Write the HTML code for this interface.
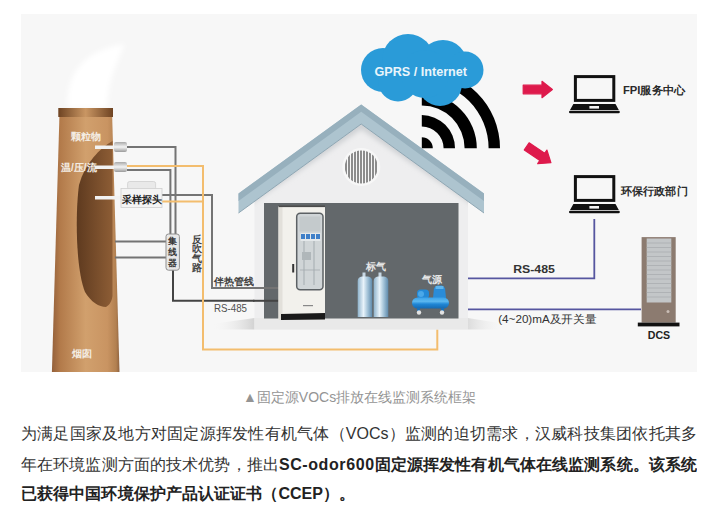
<!DOCTYPE html>
<html><head><meta charset="utf-8">
<style>
html,body{margin:0;padding:0;background:#fff;width:718px;height:515px;overflow:hidden;position:relative}
body{font-family:"Liberation Sans",sans-serif}
#dia{position:absolute;left:0;top:0}
.cap{position:absolute;left:243px;top:387px;width:233px;height:20px;font-size:14px;line-height:20px;color:#949494;white-space:nowrap;text-align:justify;text-align-last:justify}
.ln{position:absolute;left:21px;width:676px;height:30px;font-size:16px;line-height:30px;color:#333;white-space:nowrap;overflow:hidden;text-align:justify;text-align-last:justify}
.ln b{font-weight:bold;color:#222}
.tofu .ln,.tofu .cap{-webkit-text-stroke:0.9px currentColor}
.tofu .ln b{-webkit-text-stroke:1.7px currentColor}
.tofu .lat{-webkit-text-stroke:0}
.l1{top:419px}.l2{top:450px}.l3{top:479px;width:334px}
</style></head>
<body>
<svg id="dia" width="718" height="372" viewBox="0 0 718 372">
<defs>
<linearGradient id="chim" x1="0" x2="1" y1="0" y2="0">
<stop offset="0" stop-color="#94603a"/><stop offset="0.12" stop-color="#b27a4a"/><stop offset="0.5" stop-color="#d1a06d"/><stop offset="0.82" stop-color="#c99462"/><stop offset="0.95" stop-color="#b28050"/><stop offset="1" stop-color="#8e6240"/>
</linearGradient>
<linearGradient id="cap" x1="0" x2="1" y1="0" y2="0">
<stop offset="0" stop-color="#6e4322"/><stop offset="0.5" stop-color="#c99663"/><stop offset="1" stop-color="#6e4322"/>
</linearGradient>
<linearGradient id="inner" x1="0" x2="1" y1="0" y2="0">
<stop offset="0" stop-color="#5e3a1f"/><stop offset="1" stop-color="#8d5d35"/>
</linearGradient>
<linearGradient id="conn" x1="0" x2="0" y1="0" y2="1">
<stop offset="0" stop-color="#a9a9a9"/><stop offset="0.5" stop-color="#f4f4f4"/><stop offset="1" stop-color="#9a9a9a"/>
</linearGradient>
<linearGradient id="cyl" x1="0" x2="1" y1="0" y2="0">
<stop offset="0" stop-color="#8fb3cc"/><stop offset="0.4" stop-color="#e8f3fa"/><stop offset="0.7" stop-color="#9fc0d6"/><stop offset="1" stop-color="#5f8aab"/>
</linearGradient>
<radialGradient id="smoke" cx="0.5" cy="0.5" r="0.5">
<stop offset="0" stop-color="#fff" stop-opacity="1"/><stop offset="1" stop-color="#fff" stop-opacity="0"/>
</radialGradient>
<clipPath id="ventc"><circle cx="361.3" cy="167" r="16.5"/></clipPath>
</defs>
<!-- image background -->
<rect x="21" y="14" width="676" height="358" fill="#f7f7f7"/>
<!-- smoke -->
<filter id="blur6" x="-50%" y="-50%" width="200%" height="200%"><feGaussianBlur stdDeviation="2.5"/></filter>
<path d="M68 108 C66 86 74 64 96 53 C106 48 116 45 124 44 C121 55 113 70 110 84 C108 94 107 100 107 108 Z" fill="#ffffff" filter="url(#blur6)"/>
<!-- chimney -->
<polygon points="59.4,117 112.2,117 119.5,372 51.9,372" fill="url(#chim)"/>
<rect x="58.3" y="108" width="54.7" height="9" fill="url(#cap)"/>
<path d="M112.5 141 C100 148 85 163 79 185 C75 215 76 270 85 292 C91 302 99 307 106 307 C110 305 112 300 112.5 296 Z" fill="url(#inner)"/>
<!-- chimney labels -->
<text x="71" y="140" font-size="10" font-weight="bold" fill="#f4ede4">颗粒物</text>
<text x="61" y="171" font-size="10" font-weight="bold" fill="#f4ede4">温/压/流</text>
<text x="72" y="357" font-size="10" font-weight="bold" fill="#f4ede4">烟囱</text>
<!-- probes -->
<rect x="95" y="145.5" width="20" height="3.5" fill="#f2f2f2"/>
<rect x="95" y="165.5" width="20" height="3.5" fill="#f2f2f2"/>
<rect x="95" y="196" width="27" height="3.5" fill="#f2f2f2"/>
<rect x="114" y="142" width="13" height="10" rx="2" fill="url(#conn)"/>
<rect x="114" y="162" width="13" height="10" rx="2" fill="url(#conn)"/>
<!-- lines gray -->
<g fill="none" stroke="#747474" stroke-width="2">
<polyline points="127,147 175.5,147 175.5,234"/>
<polyline points="127,170 170.4,170 170.4,234"/>
<polyline points="162,195 212,195 212,288 280,288"/>
<line x1="115" y1="241.5" x2="166" y2="241.5"/>
<line x1="115" y1="257.5" x2="166" y2="257.5"/>
</g>
<polyline points="173,270 173,300.8 280,300.8" fill="none" stroke="#444" stroke-width="2"/>
<!-- orange lines -->
<g fill="none" stroke="#f3bd6e" stroke-width="2">
<polyline points="127,166 203,166 203,349.5 437.3,349.5 437.3,312"/>
<line x1="162" y1="201.6" x2="203" y2="201.6"/>
</g>
<!-- sampler -->
<rect x="127.6" y="181.5" width="28" height="8" rx="2" fill="#e9e9e9" stroke="#cfcfcf" stroke-width="0.8"/>
<rect x="121" y="188.5" width="41" height="19" fill="#f4f4f4" stroke="#d0d0d0" stroke-width="0.8"/>
<text x="122" y="203" font-size="10" font-weight="bold" fill="#222">采样探头</text>
<!-- hub -->
<rect x="166" y="234" width="13.4" height="36.2" rx="2.5" fill="#e8e8e8" stroke="#8f8f8f" stroke-width="1"/>
<g font-size="9" font-weight="bold" fill="#3a3a3a" text-anchor="middle">
<text x="172.7" y="244">集</text><text x="172.7" y="255">线</text><text x="172.7" y="266">器</text>
</g>
<g font-size="10" font-weight="bold" fill="#444" text-anchor="middle">
<text x="196.5" y="242.5">反</text><text x="196.5" y="252">吹</text><text x="196.5" y="261.5">气</text><text x="196.5" y="271">路</text>
</g>
<text x="214" y="285" font-size="10" font-weight="bold" fill="#444">伴热管线</text>
<text x="214" y="312" font-size="10.5" fill="#505050" textLength="33" lengthAdjust="spacingAndGlyphs">RS-485</text>
<!-- house -->
<linearGradient id="gable" x1="0" x2="0" y1="124" y2="205" gradientUnits="userSpaceOnUse">
<stop offset="0" stop-color="#d6d8da"/><stop offset="0.35" stop-color="#e3e4e6"/><stop offset="1" stop-color="#eeeeef"/>
</linearGradient>
<clipPath id="housec"><polygon points="254.5,201.4 361.2,124 468,201.4 468,329.5 254.5,329.5"/></clipPath>
<polygon points="254.5,201.4 361.2,124 468,201.4 468,329.5 254.5,329.5" fill="#eeeeef"/>
<g clip-path="url(#housec)"><polyline points="230,213 361.2,124 492,213" fill="none" stroke="#cfd1d4" stroke-width="9" filter="url(#blur6)"/></g>
<linearGradient id="shL" x1="1" x2="0" y1="0" y2="0"><stop offset="0" stop-color="#d2d2d2"/><stop offset="1" stop-color="#f6f6f6" stop-opacity="0"/></linearGradient>
<linearGradient id="shR" x1="0" x2="1" y1="0" y2="0"><stop offset="0" stop-color="#dcdcdc"/><stop offset="1" stop-color="#f6f6f6" stop-opacity="0"/></linearGradient>
<polygon points="254.5,318 212,324 212,329.5 254.5,329.5" fill="url(#shL)"/>
<polygon points="468,318 505,324 505,329.5 468,329.5" fill="url(#shR)"/>
<rect x="254.5" y="318" width="213.5" height="11.5" fill="#e9e9e9"/>
<rect x="264" y="203" width="194.5" height="115.5" fill="#63686b"/>
<!-- vent -->
<circle cx="361.3" cy="167" r="19" fill="#f7f7f7"/>
<g clip-path="url(#ventc)" stroke="#5e5e5e" stroke-width="1.4">
<line x1="346" y1="148" x2="346" y2="186"/><line x1="349" y1="148" x2="349" y2="186"/><line x1="352" y1="148" x2="352" y2="186"/><line x1="355" y1="148" x2="355" y2="186"/><line x1="358" y1="148" x2="358" y2="186"/><line x1="361" y1="148" x2="361" y2="186"/><line x1="364" y1="148" x2="364" y2="186"/><line x1="367" y1="148" x2="367" y2="186"/><line x1="370" y1="148" x2="370" y2="186"/><line x1="373" y1="148" x2="373" y2="186"/><line x1="376" y1="148" x2="376" y2="186"/>
</g>
<!-- roof -->
<polygon points="238.5,193.5 361.2,104.5 484,193.5 484,213 361.2,124 238.5,213" fill="#adc4cf"/>
<polygon points="238.5,193.5 361.2,104.5 484,193.5 484,201 361.2,111.7 238.5,201" fill="#97b0bd"/>
<polyline points="238.5,213 361.2,124 484,213" fill="none" stroke="#8ea6b3" stroke-width="1"/>
<line x1="253" y1="288" x2="279" y2="288" stroke="#747474" stroke-width="2"/>
<line x1="253" y1="300.8" x2="279" y2="300.8" stroke="#444" stroke-width="2"/>
<!-- cabinet -->
<rect x="278.5" y="206" width="46.5" height="114" fill="#f2f1ec"/>
<rect x="278.5" y="206" width="4" height="114" fill="#e2e0da"/>
<rect x="278.5" y="205.5" width="46.5" height="1.6" fill="#4a4a4a"/>
<polygon points="281,314 325,313 325,319.5 281,320" fill="#1a1a1a"/>
<rect x="296.7" y="213.3" width="26.3" height="76.5" rx="3.5" fill="#d0d5d7" stroke="#5c6164" stroke-width="1.5"/>
<rect x="299.5" y="216.5" width="21" height="15" fill="#c4cacc"/>
<rect x="300.5" y="233" width="20" height="8" fill="#e4e8ea"/><rect x="301" y="234" width="4" height="5" fill="#3f7fc8"/><rect x="306" y="234" width="4" height="5" fill="#3f7fc8"/><rect x="311" y="234" width="4" height="5" fill="#3f7fc8"/><rect x="316" y="234" width="4" height="5" fill="#3f7fc8"/>
<line x1="304" y1="241" x2="304" y2="285" stroke="#9aa2a6" stroke-width="0.8"/>
<line x1="314" y1="241" x2="314" y2="285" stroke="#9aa2a6" stroke-width="0.8"/>
<rect x="302" y="252" width="9" height="8" fill="#b0b7ba"/>
<line x1="300" y1="270" x2="320" y2="270" stroke="#a4abae" stroke-width="0.8"/>
<rect x="292.2" y="264" width="2" height="8.5" fill="#333"/>
<rect x="303" y="305" width="10" height="1.2" fill="#888"/>
<!-- cylinders -->
<g>
<rect x="362.5" y="272.5" width="3" height="5" fill="#c8d8e4"/>
<rect x="378.5" y="272.5" width="3" height="5" fill="#c8d8e4"/>
<path d="M357.7 281 Q357.7 277 362 276.5 L368 276.5 Q372.2 277 372.2 281 L372.2 317 L357.7 317 Z" fill="url(#cyl)"/>
<path d="M373.7 281 Q373.7 277 378 276.5 L384 276.5 Q388.3 277 388.3 281 L388.3 317 L373.7 317 Z" fill="url(#cyl)"/>
</g>
<text x="366" y="269.5" font-size="10" font-weight="bold" fill="#e6e6e6" textLength="20" lengthAdjust="spacingAndGlyphs">标气</text>
<text x="422" y="282.5" font-size="10" font-weight="bold" fill="#e6e6e6" textLength="20" lengthAdjust="spacingAndGlyphs">气源</text>
<!-- compressor -->
<linearGradient id="tank" x1="0" x2="0" y1="0" y2="1"><stop offset="0" stop-color="#3aa2ea"/><stop offset="0.35" stop-color="#5cb8f0"/><stop offset="0.6" stop-color="#1f86d6"/><stop offset="1" stop-color="#1669b0"/></linearGradient>
<rect x="417" y="289.5" width="12" height="9" rx="3.5" fill="#2489d6"/>
<circle cx="421" cy="294" r="3" fill="#4aa8e8"/>
<path d="M433 298 L434 288 L437 285.5 L442 285.5 L445 288 L446 298 Z" fill="#2a8cd8"/>
<rect x="435.5" y="286" width="8" height="3" fill="#5fb6ee"/>
<rect x="412" y="297.5" width="37" height="11" rx="5.5" fill="url(#tank)"/>
<rect x="417" y="308" width="3" height="3" fill="#1a6fb8"/><rect x="441" y="308" width="3" height="3" fill="#1a6fb8"/>
<circle cx="419" cy="312.5" r="2.2" fill="#e3e3e3"/><circle cx="442" cy="312.5" r="2.2" fill="#e3e3e3"/>
<!-- wifi -->
<g fill="#000">
<path d="M421.8 148.3 L421.8 137.3 A11 11 0 0 1 432.8 148.3 Z"/>
<path d="M421.8 126.5 A21.8 21.8 0 0 1 443.6 148.3 L455 148.3 A33.2 33.2 0 0 0 421.8 115.1 Z"/>
<path d="M421.8 105.5 A42.8 42.8 0 0 1 464.6 148.3 L476.8 148.3 A55 55 0 0 0 421.8 93.3 Z"/>
<path d="M421.8 81.5 A66.8 66.8 0 0 1 488.6 148.3 L500 148.3 A78.2 78.2 0 0 0 421.8 70.1 Z"/>
</g>
<!-- cloud -->
<g fill="#2a9bd8">
<circle cx="383" cy="70" r="22"/>
<circle cx="408" cy="60" r="26"/>
<circle cx="398" cy="82" r="19.5"/>
<circle cx="443" cy="64" r="24"/>
<circle cx="465" cy="70" r="18.5"/>
<circle cx="440" cy="84" r="22"/>
<circle cx="425" cy="74" r="24"/>
</g>
<text x="374.5" y="76.2" font-size="12.6" font-weight="bold" fill="#eaf5fb" textLength="92.5" lengthAdjust="spacingAndGlyphs">GPRS / Internet</text>
<!-- arrows -->
<g fill="#de1a4c" stroke="#de1a4c" stroke-width="1.2" stroke-linejoin="round">
<path id="arw" d="M0.6 -4.3 L19.4 -4.3 L19.4 -8.2 L29.8 0 L19.4 8.2 L19.4 4.3 L0.6 4.3 Z" transform="translate(522.6 89.5)"/>
<path d="M0.6 -4.3 L19.4 -4.3 L19.4 -8.2 L29.8 0 L19.4 8.2 L19.4 4.3 L0.6 4.3 Z" transform="translate(526.2 146) rotate(34)"/>
</g>
<!-- laptops -->
<g id="lap">
<rect x="575.4" y="76.6" width="38.4" height="23.8" fill="none" stroke="#111" stroke-width="3"/>
<polygon points="573.4,104 615.5,104 618.8,110 570,110" fill="#111"/>
<rect x="589.4" y="106" width="9.6" height="2.6" fill="#f3f3f3"/>
<rect x="569" y="110.7" width="50.8" height="2.6" rx="1.3" fill="#111"/>
</g>
<use href="#lap" y="100"/>
<text x="623" y="94" font-size="11" font-weight="bold" fill="#2a2a2a" textLength="62.4" lengthAdjust="spacingAndGlyphs">FPI服务中心</text>
<text x="621" y="194.5" font-size="11" font-weight="bold" fill="#2a2a2a" textLength="66.6" lengthAdjust="spacingAndGlyphs">环保行政部门</text>
<!-- blue lines -->
<polyline points="594.3,219 594.3,278.3 468,278.3" fill="none" stroke="#5656a0" stroke-width="1.8"/>
<line x1="468" y1="309.4" x2="641" y2="309.4" stroke="#5656a0" stroke-width="1.8"/>
<text x="513.2" y="272.8" font-size="11" font-weight="bold" fill="#333" textLength="41.7" lengthAdjust="spacingAndGlyphs">RS-485</text>
<text x="498.2" y="323" font-size="11" fill="#333" textLength="98.3" lengthAdjust="spacingAndGlyphs">(4~20)mA及开关量</text>
<!-- DCS -->
<rect x="641.6" y="237.1" width="34.1" height="85.5" fill="#8c7b70"/>
<rect x="646.7" y="238.5" width="24.6" height="64" fill="#c3c6c8"/>
<g stroke="#aaadb0" stroke-width="0.8">
<line x1="646.7" y1="243" x2="671.3" y2="243"/><line x1="646.7" y1="247.5" x2="671.3" y2="247.5"/><line x1="646.7" y1="252" x2="671.3" y2="252"/><line x1="646.7" y1="256.5" x2="671.3" y2="256.5"/><line x1="646.7" y1="261" x2="671.3" y2="261"/><line x1="646.7" y1="265.5" x2="671.3" y2="265.5"/><line x1="646.7" y1="270" x2="671.3" y2="270"/><line x1="646.7" y1="274.5" x2="671.3" y2="274.5"/><line x1="646.7" y1="279" x2="671.3" y2="279"/><line x1="646.7" y1="283.5" x2="671.3" y2="283.5"/><line x1="646.7" y1="288" x2="671.3" y2="288"/><line x1="646.7" y1="292.5" x2="671.3" y2="292.5"/><line x1="646.7" y1="297" x2="671.3" y2="297"/>
</g>
<circle cx="668" cy="311.4" r="1.5" fill="#c9bdb5"/>
<rect x="637.8" y="322.6" width="41.7" height="3.8" fill="#111"/>
<text x="647.8" y="339.3" font-size="11" font-weight="bold" fill="#222" textLength="22.4" lengthAdjust="spacingAndGlyphs">DCS</text>
</svg>
<div class="cap">▲固定源<span class="lat">VOCs</span>排放在线监测系统框架</div>
<div class="ln l1">为满足国家及地方对固定源挥发性有机气体（<span class="lat">VOCs</span>）监测的迫切需求，汉威科技集团依托其多</div>
<div class="ln l2">年在环境监测方面的技术优势，推出<b><span class="lat" style="letter-spacing:0.6px">SC-odor600</span>固定源挥发性有机气体在线监测系统。该系统</b></div>
<div class="ln l3"><b>已获得中国环境保护产品认证证书（<span class="lat">CCEP</span>）。</b></div>
<script>
(function(){try{var c=document.createElement('canvas').getContext('2d');c.font='16px "Liberation Sans", sans-serif';
if(c.measureText('\u56fd\u56fd\u56fd\u56fd').width<56){document.documentElement.className+=' tofu';
var t=document.querySelectorAll('svg text');for(var i=0;i<t.length;i++){if(/[\u3000-\u9fff\uff00-\uffef]/.test(t[i].textContent)){t[i].setAttribute('stroke',t[i].getAttribute('fill'));t[i].setAttribute('stroke-width','0.6');}}}}catch(e){}})();
</script>
</body></html>
